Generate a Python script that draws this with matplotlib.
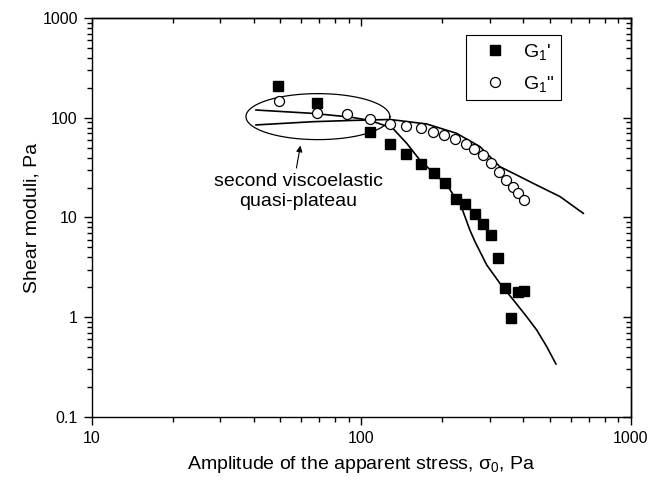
import matplotlib
matplotlib.use('Agg')
import matplotlib.pyplot as plt
import numpy as np
from matplotlib.ticker import FuncFormatter, FixedLocator, NullFormatter

plt.rcParams['font.family'] = ['Liberation Sans', 'DejaVu Sans']
plt.rcParams['mathtext.fontset'] = 'custom'
plt.rcParams['mathtext.rm'] = 'Liberation Sans'
plt.rcParams['mathtext.it'] = 'Liberation Sans:italic'

# measured points, G1' (storage) and G1'' (loss)
g1p_x = [49.3, 68.8, 108, 127.4, 146.6, 167, 186.3, 205.2, 223.9, 243.4, 264, 283.6,
         303, 321.8, 342.5, 359.7, 382.8, 401.8]
g1p_y = [209, 141, 71.4, 54.3, 43.1, 34.3, 27.8, 22.4, 15.5, 13.8, 10.8, 8.67,
         6.6, 3.89, 1.95, 0.97, 1.80, 1.83]

g1pp_x = [49.6, 68.8, 88.4, 108, 128.2, 146.6, 166, 185.2, 203, 223.5, 244.2, 262.9,
          283.9, 302.3, 324.5, 343.7, 364.9, 382.8, 401.8]
g1pp_y = [148, 111, 110.7, 96.4, 86.9, 82.4, 78.3, 72.7, 67.3, 61.0, 54.3, 48.4,
          42.4, 35.5, 28.8, 23.8, 20.4, 17.7, 15.0]

# model curves
fit_p_x = [40.7, 66.2, 90.9, 108, 131, 147.5, 165, 186, 208, 226, 232.6, 242.7, 253,
           264.5, 276, 292.2, 327.3, 366.7, 411, 448, 488, 528]
fit_p_y = [120, 111, 102, 94.2, 78.6, 55.6, 37.8, 27.8, 21.2, 15.0, 13.9, 10.2, 7.49,
           5.71, 4.54, 3.34, 2.18, 1.49, 1.01, 0.742, 0.505, 0.338]

fit_pp_x = [40.7, 66.2, 90.9, 128, 175, 226, 276, 300.6, 327, 377.6, 435, 547, 667]
fit_pp_y = [85, 91.6, 94.2, 96.4, 86.9, 70.0, 51.4, 40.7, 32.4, 26.7, 22.0, 16.2, 11.0]

# axis ticks
x_major = [10, 100, 1000]
y_major = [0.1, 1, 10, 100, 1000]
subs = np.arange(2, 10)
x_minor = np.concatenate([subs * d for d in x_major[:-1]])
y_minor = np.concatenate([subs * d for d in y_major[:-1]])

fig = plt.figure(figsize=(6.48, 4.83), dpi=100)
ax = fig.add_axes([0.1415, 0.1373, 0.8318, 0.8248])
ax.set_xscale('log')
ax.set_yscale('log')
ax.set_xlim(10, 1000)
ax.set_ylim(0.1, 1000)

ax.plot(fit_p_x, fit_p_y, '-', color='black', lw=1.2, zorder=2)
ax.plot(fit_pp_x, fit_pp_y, '-', color='black', lw=1.2, zorder=2)
ax.plot(g1p_x, g1p_y, 's', color='black', ms=6.7, label="G$_1$'", zorder=3)
ax.plot(g1pp_x, g1pp_y, 'o', mfc='white', mec='black', mew=0.9, ms=7.2,
        label='G$_1$"', zorder=3)

# ellipse around the plateau, drawn in log space
t = np.linspace(0, 2 * np.pi, 200)
cx, cy = np.log10(69.1), np.log10(103)
ax.plot(10 ** (cx + 0.267 * np.cos(t)), 10 ** (cy + 0.231 * np.sin(t)),
        color='black', lw=0.9, zorder=2)

ax.annotate('', xy=(59.5, 52.8), xytext=(57.5, 31.4),
            arrowprops=dict(arrowstyle='-|>', color='black', lw=0.8,
                            mutation_scale=9, shrinkA=0, shrinkB=0))
ax.text(58.3, 18.2, 'second viscoelastic\nquasi-plateau', ha='center', va='center',
        multialignment='center', fontsize=14)

fmt = FuncFormatter(lambda v, p: '{:g}'.format(v))

# bottom/left ticks point out, top/right ticks point in
sx = ax.secondary_xaxis('top')
sy = ax.secondary_yaxis('right')
for a, major, minor in ((ax.xaxis, x_major, x_minor), (ax.yaxis, y_major, y_minor),
                        (sx.xaxis, x_major, x_minor), (sy.yaxis, y_major, y_minor)):
    a.set_major_locator(FixedLocator(major))
    a.set_minor_locator(FixedLocator(minor))
    a.set_major_formatter(fmt)
    a.set_minor_formatter(NullFormatter())

ax.tick_params(which='both', direction='out', top=False, right=False,
               labelsize=11.5, width=1.0, pad=4)
ax.tick_params(which='major', length=6)
ax.tick_params(which='minor', length=3.5)

sx.tick_params(which='both', direction='in', labeltop=False, width=1.0)
sx.tick_params(which='major', length=6)
sx.tick_params(which='minor', length=3.5)
sy.tick_params(which='both', direction='in', labelright=False, width=1.0)
sy.tick_params(which='major', length=6)
sy.tick_params(which='minor', length=3.5)
for s in list(ax.spines.values()) + [sx.spines['top'], sy.spines['right']]:
    s.set_linewidth(1.0)

ax.set_xlabel('Amplitude of the apparent stress, \u03c3$_0$, Pa', fontsize=14, labelpad=6)
ax.set_ylabel('Shear moduli, Pa', fontsize=14, labelpad=1)

leg = ax.legend(loc='upper right', bbox_to_anchor=(0.871, 0.958), fontsize=14,
                frameon=True, fancybox=False, edgecolor='black', framealpha=1,
                handlelength=2.29, handletextpad=0.3, borderpad=0.35,
                borderaxespad=0, labelspacing=0.6, numpoints=1)
leg.get_frame().set_linewidth(0.8)

fig.savefig('out.png', dpi=100)
